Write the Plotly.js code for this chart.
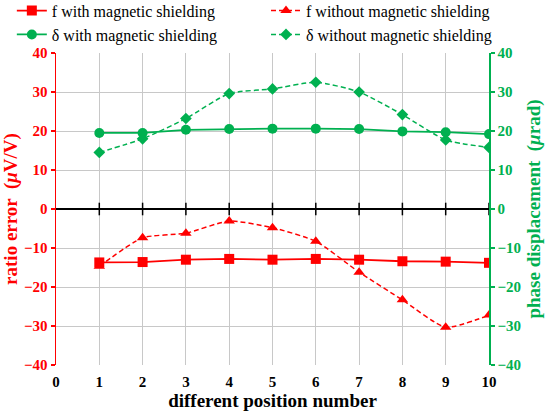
<!DOCTYPE html>
<html><head><meta charset="utf-8">
<script src="https://cdn.plot.ly/plotly-3.0.1.min.js"></script>
<style>body{margin:0;padding:0;background:#fff}#c{width:550px;height:415px}</style>
</head><body><div id="c"></div>
<script>
const positions = [1,2,3,4,5,6,7,8,9,10];
const fWith = [-13.7,-13.6,-13.0,-12.8,-13.0,-12.8,-13.0,-13.4,-13.5,-13.8];
const fWithout = [-14.7,-7.4,-6.2,-3.1,-4.8,-8.3,-16.2,-23.3,-30.3,-27.2];
const dWith = [19.5,19.5,20.3,20.5,20.6,20.6,20.5,19.9,19.7,19.2];
const dWithout = [14.5,18.0,23.2,29.6,30.8,32.5,30.0,24.2,17.7,15.8];
const names = ["f with magnetic shielding","f without magnetic shielding","δ with magnetic shielding","δ without magnetic shielding"];
const xTickVals = [0,1,2,3,4,5,6,7,8,9,10];
const yTickVals = [-40,-30,-20,-10,0,10,20,30,40];

const RED = "#FF0000", GREEN = "#00B050";
const FONT = "Liberation Serif";

const traces = [
  {x: positions, y: fWith, name: names[0], mode: "lines+markers", yaxis: "y", legend: "legend",
   line: {color: RED, width: 1.8}, marker: {symbol: "square", size: 10, color: RED}},
  {x: positions, y: fWithout, name: names[1], mode: "lines+markers", yaxis: "y", legend: "legend2",
   line: {color: RED, width: 1.5, dash: "5px,3px", shape: "spline", smoothing: 0.6}, marker: {symbol: "triangle-up", size: 10, color: RED}},
  {x: positions, y: dWith, name: names[2], mode: "lines+markers", yaxis: "y2", legend: "legend",
   line: {color: GREEN, width: 1.8}, marker: {symbol: "circle", size: 10, color: GREEN}},
  {x: positions, y: dWithout, name: names[3], mode: "lines+markers", yaxis: "y2", legend: "legend2",
   line: {color: GREEN, width: 1.5, dash: "5px,3px", shape: "spline", smoothing: 0.6}, marker: {symbol: "diamond", size: 9, color: GREEN}},
  {x: positions, y: positions.map(() => 0), mode: "markers", yaxis: "y", showlegend: false, hoverinfo: "skip",
   marker: {symbol: "line-ns-open", size: 9, color: "#000", line: {color: "#000", width: 1.5}}}
];

const legendBase = {
  orientation: "v", yanchor: "top", xanchor: "left",
  font: {family: FONT, size: 16, color: "#000"}, itemwidth: 30, bgcolor: "rgba(0,0,0,0)",
  tracegroupgap: 0, borderwidth: 0
};

const layout = {
  width: 550, height: 415,
  margin: {l: 56, r: 61, t: 53, b: 50, autoexpand: false},
  paper_bgcolor: "#fff", plot_bgcolor: "#fff",
  font: {family: FONT, size: 15, color: "#000"},
  showlegend: true,
  legend: Object.assign({}, legendBase, {x: -0.102, y: 1.19}),
  legend2: Object.assign({}, legendBase, {x: 0.485, y: 1.19}),
  xaxis: {range: [0, 10], tickvals: xTickVals, showgrid: true, gridcolor: "#c8c8c8", gridwidth: 1,
    zeroline: false, showline: false, ticks: "", ticklabelstandoff: 6,
    tickfont: {family: FONT, size: 15, color: "#000", weight: "bold"},
    title: {text: "different position number", font: {family: FONT, size: 19, color: "#000", weight: "bold"}, standoff: 4}},
  yaxis: {range: [-40, 40], tickvals: yTickVals, showgrid: true, gridcolor: "#c8c8c8", gridwidth: 1,
    zeroline: true, zerolinecolor: "#000", zerolinewidth: 1.5,
    showline: true, linecolor: RED, linewidth: 1.5, ticks: "outside", ticklen: 4, tickcolor: RED, tickwidth: 1.5,
    tickfont: {family: FONT, size: 15, color: RED, weight: "bold"},
    title: {text: "ratio error  (<i>μ</i>V/V)", font: {family: FONT, size: 19, color: RED, weight: "bold"}, standoff: 6}},
  yaxis2: {range: [-40, 40], tickvals: yTickVals, overlaying: "y", side: "right", showgrid: false, zeroline: false,
    showline: true, linecolor: GREEN, linewidth: 1.5, ticks: "outside", ticklen: 4, tickcolor: GREEN, tickwidth: 1.5,
    tickfont: {family: FONT, size: 15, color: GREEN, weight: "bold"},
    title: {text: "phase displacement  (<i>μ</i>rad)", font: {family: FONT, size: 19, color: GREEN, weight: "bold"}, standoff: 6}}
};
Plotly.newPlot("c", traces, layout, {staticPlot: true, displayModeBar: false});
</script>
</body></html>
